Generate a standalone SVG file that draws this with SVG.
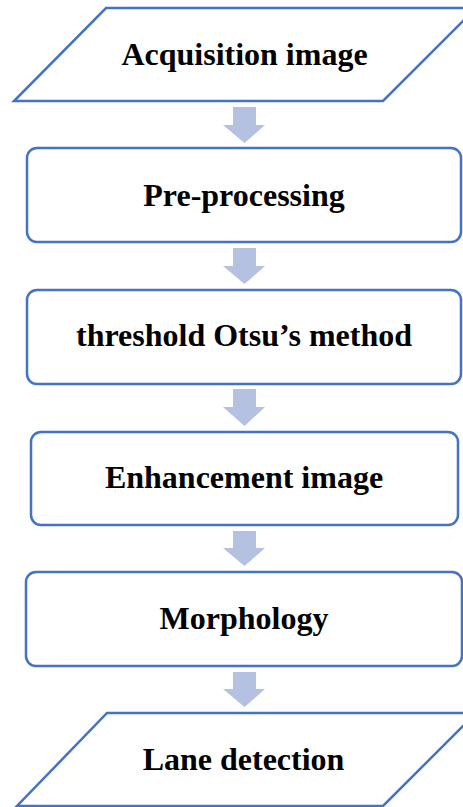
<svg xmlns="http://www.w3.org/2000/svg" width="463" height="807" viewBox="0 0 463 807">
<style>
.shape{fill:#fff;stroke:#4472C4;stroke-width:2.5}
.arrow{fill:#B4C1E0;stroke:none}
text{font-family:"Liberation Serif","Times New Roman",serif;font-weight:bold;font-size:32px;fill:#000;text-anchor:middle}
</style>
<rect width="463" height="807" fill="#fff"/>
<g id="connectors">
<polygon class="arrow" points="233,107 256,107 256,125 265,125 244.5,143 223,125 233,125"/>
<polygon class="arrow" points="233,248 256,248 256,266 265,266 244.5,284 223,266 233,266"/>
<polygon class="arrow" points="233,389 256,389 256,407 265,407 244.5,426 223,407 233,407"/>
<polygon class="arrow" points="233,531 256,531 256,548 265,548 244.5,566 223,548 233,548"/>
<polygon class="arrow" points="233,672 256,672 256,689 265,689 244.5,707 223,689 233,689"/>
</g>
<g id="n1">
<polygon class="shape" points="106,8 476,8 383,101 14,101"/>
<text x="244.5" y="65">Acquisition image</text>
</g>
<g id="n2">
<rect class="shape" x="27" y="148" width="434" height="94" rx="10"/>
<text x="244" y="206">Pre-processing</text>
</g>
<g id="n3">
<rect class="shape" x="27" y="290" width="434" height="94" rx="10"/>
<text x="244" y="346">threshold Otsu’s method</text>
</g>
<g id="n4">
<rect class="shape" x="31" y="432" width="427" height="93" rx="10"/>
<text x="244" y="488">Enhancement image</text>
</g>
<g id="n5">
<rect class="shape" x="26" y="572" width="436" height="94" rx="10"/>
<text x="244" y="629">Morphology</text>
</g>
<g id="n6">
<polygon class="shape" points="107,713 476,713 383,806 17,806"/>
<text x="243.5" y="770">Lane detection</text>
</g>
</svg>
